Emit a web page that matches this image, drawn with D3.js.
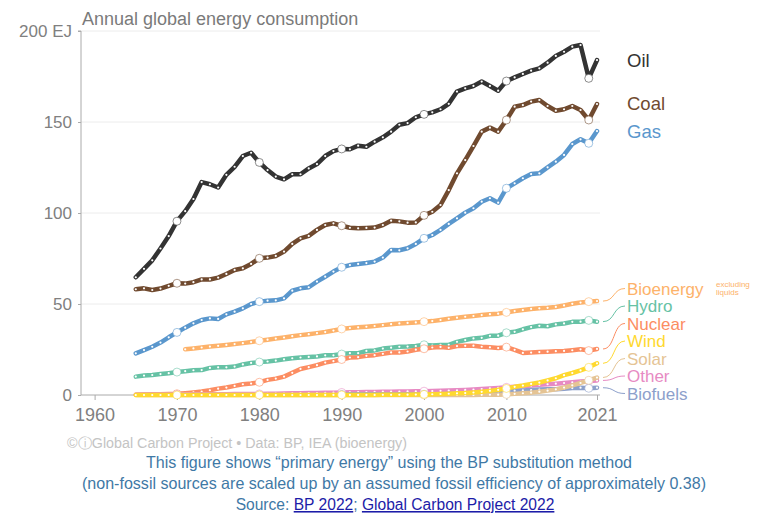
<!DOCTYPE html>
<html>
<head>
<meta charset="utf-8">
<script src="https://cdn.jsdelivr.net/npm/d3@7"></script>
<style>
  body { margin: 0; background: #fff; }
  svg { display: block; font-family: "Liberation Sans", Arial, sans-serif; }
</style>
</head>
<body>
<script>
// values in EJ, one per year
const oil = [64.7, 69.3, 74.0, 80.5, 87.3, 95.5, 101, 107.7, 117, 115.8,
  114, 121, 125.4, 131.3, 133.1, 127.8, 123.6, 120, 118.5, 121.3,
  121.3, 124.5, 126.9, 131.3, 134, 135.2, 135, 137, 136.4, 139.2,
  141.6, 144.7, 148.5, 149.4, 152.6, 154.2, 155.3, 157, 160, 166.7,
  168.5, 169.8, 172.2, 169.8, 167.2, 172.5, 174.5, 176.4, 178.2, 179.5,
  182.6, 186.3, 188.6, 191.4, 192.3, 174, 184];
const coal = [58.1, 58.6, 57.7, 58.5, 60, 61.4, 61.2, 62, 63.5, 63.5,
  64.5, 66.5, 68.7, 69.6, 72, 75.1, 75.5, 76.4, 78.8, 83,
  86.1, 87.4, 90.7, 93.4, 94.3, 93, 91.9, 91.6, 91.8, 92,
  93.4, 95.8, 95.4, 94.7, 94.8, 98.7, 100.7, 104.4, 112.6, 121.8,
  129.1, 136.8, 144.7, 146.9, 144.7, 151.1, 158.4, 159.3, 161.2, 162.1,
  158.8, 156.2, 157, 158.8, 156.6, 151.1, 159.9];
const gas = [22.9, 24.7, 26.5, 28.8, 31.7, 34.4, 37, 39.4, 41.2, 42.1,
  41.8, 44.3, 45.8, 47.6, 50, 51.3, 51.8, 52, 53.1, 57.3,
  58.6, 59.2, 62.3, 65, 67.8, 70.2, 71.4, 72, 72.5, 73.3,
  75.5, 79.7, 79.5, 80.6, 83, 86.1, 87.9, 90.7, 94, 97.1,
  100.2, 102.6, 106.2, 108.1, 105.7, 113.6, 116.3, 119.1, 121.4, 121.8,
  125.1, 128.2, 131.9, 137.9, 140.5, 138.3, 145];
// bioenergy starts in 1971
const bioenergy = [25.1, 25.6, 26.1, 26.6,
  27.0, 27.5, 28.0, 28.5, 29.1, 29.8, 30.4, 31.0, 31.6, 32.3,
  32.9, 33.4, 34.0, 34.6, 35.4, 36.3, 36.8, 37.2, 37.5, 37.9,
  38.4, 38.9, 39.3, 39.6, 39.9, 40.3, 40.6, 41.2, 41.9, 42.5,
  43.0, 43.4, 43.9, 44.4, 44.7, 45.4, 46.1, 46.7, 47.3, 47.6,
  47.9, 48.4, 49.2, 50.1, 50.8, 51.3, 51.6];
const hydro = [10.1, 10.7, 11.0, 11.5, 12.0, 12.6, 13.1, 13.6, 13.7, 14.9,
  15.2, 15.2, 15.6, 16.8, 17.6, 18.1, 18.4, 18.9, 19.6, 20.2,
  20.6, 20.9, 21.2, 21.8, 21.8, 22.5, 23.0, 23.0, 24.2, 24.5,
  25.5, 26.0, 26.5, 26.6, 26.9, 27.6, 27.2, 27.5, 27.6, 29.2,
  30.2, 31.1, 31.4, 32.5, 32.6, 34.2, 34.7, 36.1, 37.3, 38.0,
  37.8, 38.8, 39.3, 40.2, 40.3, 41.0, 40.3];
const nuclear = [0.2, 0.3, 0.35, 0.45, 0.55, 0.7, 1.0, 1.4, 1.9, 2.6,
  3.5, 4.1, 5.0, 5.9, 6.3, 7.0, 8.3, 9.0, 10.1, 12.2,
  14.3, 15.3, 16.4, 17.8, 18.6, 19.5, 20.6, 20.8, 21.5, 21.9,
  22.6, 23.4, 23.4, 23.9, 24.9, 25.4, 26.1, 26.4, 25.9, 26.9,
  27.0, 27.1, 26.5, 26.2, 25.8, 26.3, 24.8, 23.1, 23.3, 23.6,
  23.8, 24.1, 24.2, 24.6, 25.1, 24.4, 25.3];
const wind = [0, 0, 0, 0, 0, 0, 0, 0, 0, 0,
  0, 0, 0, 0, 0, 0, 0, 0, 0, 0,
  0.01, 0.01, 0.01, 0.02, 0.02, 0.03, 0.04, 0.04, 0.05, 0.06,
  0.08, 0.1, 0.13, 0.18, 0.24, 0.33, 0.42, 0.56, 0.68, 0.9,
  1.08, 1.38, 1.74, 2.27, 2.84, 3.6, 4.48, 5.2, 6.1, 6.85,
  8.0, 9.2, 10.9, 12.1, 13.5, 15.2, 17.4];
const solar = [0, 0, 0, 0, 0, 0, 0, 0, 0, 0,
  0, 0, 0, 0, 0, 0, 0, 0, 0, 0,
  0, 0, 0, 0, 0, 0, 0, 0, 0, 0,
  0, 0, 0, 0, 0, 0.01, 0.01, 0.02, 0.02, 0.03,
  0.04, 0.06, 0.08, 0.13, 0.2, 0.33, 0.62, 0.95, 1.3, 1.8,
  2.4, 3.1, 4.1, 5.3, 6.6, 8.1, 9.6];
const other = [0.2, 0.22, 0.25, 0.27, 0.3, 0.32, 0.35, 0.37, 0.4, 0.43,
  0.46, 0.48, 0.5, 0.53, 0.56, 0.6, 0.66, 0.72, 0.8, 0.9,
  1.0, 1.05, 1.1, 1.2, 1.3, 1.4, 1.5, 1.55, 1.6, 1.7,
  1.8, 1.85, 1.9, 1.95, 2.0, 2.1, 2.2, 2.3, 2.45, 2.6,
  2.8, 3.0, 3.3, 3.6, 3.9, 4.2, 4.5, 4.8, 5.2, 5.6,
  5.9, 6.2, 6.6, 7.0, 7.4, 7.7, 8.0];
// biofuels starts in 1990
const biofuels = [0.35, 0.35, 0.36, 0.37, 0.38,
  0.4, 0.4, 0.41, 0.4, 0.4, 0.4, 0.42, 0.47, 0.55, 0.62,
  0.75, 1.0, 1.3, 1.7, 2.0, 2.3, 2.4, 2.5, 2.7, 3.0,
  3.1, 3.2, 3.4, 3.8, 4.0, 3.7, 4.0];

const names = ["Oil", "Coal", "Gas", "Bioenergy", "Hydro", "Nuclear", "Wind", "Solar", "Other", "Biofuels"];
const startYears = [1965, 1965, 1965, 1971, 1965, 1965, 1965, 1965, 1965, 1990];
const seriesValues = [oil, coal, gas, bioenergy, hydro, nuclear, wind, solar, other, biofuels];
const colors = ["#333333", "#704a2f", "#5a97cd", "#fdb26a", "#66c2a5", "#fc8d62", "#ffd92f", "#e5c494", "#e78ac3", "#8da0cb"];
const drawOrder = ["Oil", "Coal", "Gas", "Bioenergy", "Hydro", "Nuclear", "Other", "Biofuels", "Solar", "Wind"];
const xTicks = [1960, 1970, 1980, 1990, 2000, 2010, 2021];
const yTicks = [0, 50, 100, 150, 200];
const decades = [1970, 1980, 1990, 2000, 2010, 2020];

const width = 778, height = 519;
const series = names.map((name, i) => ({
  name,
  color: colors[i],
  points: seriesValues[i].map((v, j) => ({ year: startYears[i] + j, value: v }))
}));

const svg = d3.select("body").append("svg")
  .attr("width", width).attr("height", height);

const x = d3.scaleLinear().domain([1960, 2021]).range([94.6, 597]);
const y = d3.scaleLinear().domain([0, 200]).range([395, 31]);
const plotLeft = 81, plotRight = 600;

// gridlines
svg.append("g").selectAll("line").data(yTicks.filter(d => d > 0)).join("line")
  .attr("x1", plotLeft).attr("x2", plotRight)
  .attr("y1", d => y(d)).attr("y2", d => y(d))
  .attr("stroke", "#ececec").attr("stroke-width", 1);

// y axis
const yAxis = d3.axisLeft(y).tickValues(yTicks).tickSize(3).tickPadding(6)
  .tickFormat(d => d === 200 ? "200 EJ" : d);
const gy = svg.append("g").attr("transform", `translate(${plotLeft},0)`).call(yAxis);
gy.select(".domain").attr("stroke", "#aaa").attr("d", `M-3,${y(200)}H0V${y(0)}`);
gy.selectAll(".tick line").attr("stroke", "#aaa");
gy.selectAll(".tick text").attr("fill", "#808080").style("font-size", "17px")
  .style("font-family", "Liberation Sans, Arial, sans-serif").attr("x", -9);

// x axis
const xAxis = d3.axisBottom(x).tickValues(xTicks).tickSize(5).tickPadding(8).tickFormat(d3.format("d"));
const gx = svg.append("g").attr("transform", `translate(0,${y(0)})`).call(xAxis);
gx.select(".domain").attr("stroke", "#aaa").attr("d", `M${plotLeft},0H${plotRight}`);
gx.selectAll(".tick line").attr("stroke", "#aaa");
gx.selectAll(".tick text").attr("fill", "#808080").style("font-size", "18px")
  .style("font-family", "Liberation Sans, Arial, sans-serif");

// title
svg.append("text").attr("x", 82).attr("y", 25)
  .attr("fill", "#7a7a7a").style("font-size", "18px")
  .text("Annual global energy consumption");

// lines
const line = d3.line().x(d => x(d.year)).y(d => y(d.value)).curve(d3.curveLinear);
const byName = new Map(series.map(s => [s.name, s]));
drawOrder.forEach(name => {
  const s = byName.get(name);
  const g = svg.append("g");
  g.append("path").datum(s.points).attr("d", line)
    .attr("fill", "none").attr("stroke", s.color).attr("stroke-width", 4.5)
    .attr("stroke-linejoin", "round").attr("stroke-linecap", "round");
  g.selectAll("circle.dot").data(s.points.filter(p => !decades.includes(p.year))).join("circle")
    .attr("class", "dot").attr("cx", d => x(d.year)).attr("cy", d => y(d.value))
    .attr("r", 1.1).attr("fill", "#fff");
  g.selectAll("circle.dec").data(s.points.filter(p => decades.includes(p.year))).join("circle")
    .attr("class", "dec").attr("cx", d => x(d.year)).attr("cy", d => y(d.value))
    .attr("r", 4).attr("fill", "#fff").attr("stroke", s.color).attr("stroke-opacity", 0.7).attr("stroke-width", 0.8);
});

// labels
const topGroup = ["Oil", "Coal", "Gas"];
const bottomGroup = ["Bioenergy", "Hydro", "Nuclear", "Wind", "Solar", "Other", "Biofuels"];
const labelX = 627;
topGroup.forEach(name => {
  const s = byName.get(name);
  const last = s.points[s.points.length - 1];
  svg.append("text").attr("x", labelX).attr("y", y(last.value) + 6.5)
    .attr("fill", s.color).style("font-size", "18.5px").text(name);
});
bottomGroup.forEach((name, i) => {
  const s = byName.get(name);
  const last = s.points[s.points.length - 1];
  const ly = 288.5 + i * 17.5;
  const x0 = x(last.year) + 6, y0 = y(last.value), x1 = labelX - 2;
  svg.append("path")
    .attr("d", `M${x0},${y0}C${x0 + 12},${y0} ${x1 - 12},${ly} ${x1},${ly}`)
    .attr("fill", "none").attr("stroke", s.color).attr("stroke-width", 1);
  svg.append("text").attr("x", labelX).attr("y", ly + 6)
    .attr("fill", s.color).style("font-size", "17px").text(name);
});
const bio = byName.get("Bioenergy");
svg.append("text").attr("x", 716).attr("y", 286.5).attr("fill", bio.color)
  .style("font-size", "8px").text("excluding");
svg.append("text").attr("x", 716).attr("y", 294.5).attr("fill", bio.color)
  .style("font-size", "8px").text("liquids");

// credits
svg.append("text").attr("x", 67).attr("y", 448).attr("fill", "#c4c4c4")
  .style("font-size", "14px").attr("textLength", 340).attr("lengthAdjust", "spacingAndGlyphs")
  .text("\u00a9\u24d8Global Carbon Project  \u2022  Data: BP, IEA (bioenergy)");

const capColor = "#3f79a6";
const cap = svg.append("g").attr("text-anchor", "middle")
  .style("font-size", "16.5px").attr("fill", capColor);
cap.append("text").attr("x", 389).attr("y", 468)
  .attr("textLength", 486).attr("lengthAdjust", "spacingAndGlyphs")
  .text("This figure shows \u201cprimary energy\u201d using the BP substitution method");
cap.append("text").attr("x", 394).attr("y", 489)
  .attr("textLength", 624).attr("lengthAdjust", "spacingAndGlyphs")
  .text("(non-fossil sources are scaled up by an assumed fossil efficiency of approximately 0.38)");
const src = cap.append("text").attr("x", 395).attr("y", 510).style("font-size", "15.6px");
src.append("tspan").text("Source: ");
src.append("tspan").attr("fill", "#1c1ca8").attr("text-decoration", "underline").text("BP 2022");
src.append("tspan").text("; ");
src.append("tspan").attr("fill", "#1c1ca8").attr("text-decoration", "underline").text("Global Carbon Project 2022");
</script>
</body>
</html>
